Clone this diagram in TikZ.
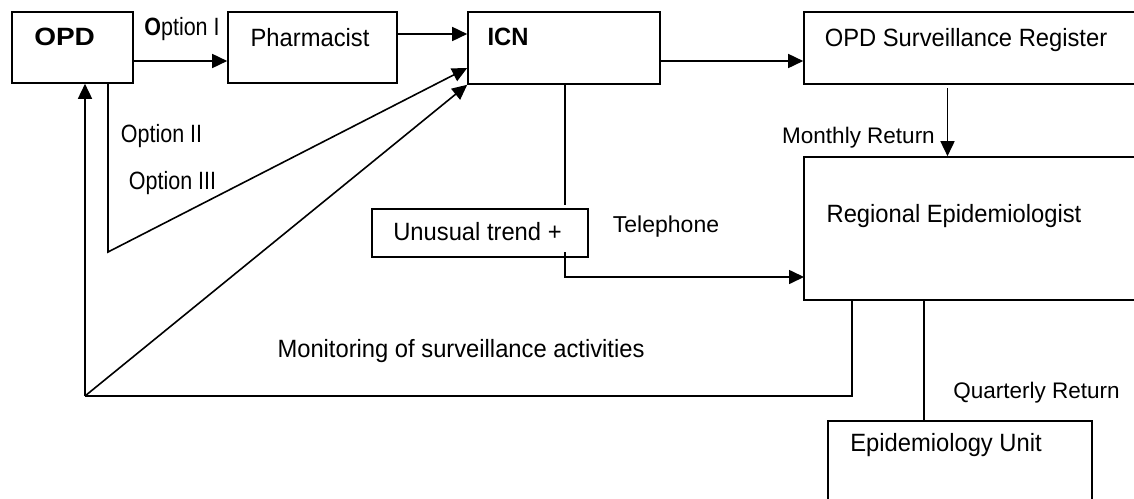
\documentclass[tikz,border=0pt]{standalone}
\usepackage{fontspec}
\setmainfont{Liberation Sans}
\newfontfamily\narrowfont[FakeStretch=0.95]{Liberation Sans}
\newfontfamily\optfont[FakeStretch=0.86]{Liberation Sans}
\newfontfamily\widefont[FakeStretch=1.12]{Liberation Sans}
\usetikzlibrary{arrows.meta}

\begin{document}
\begin{tikzpicture}[x=1pt,y=-1pt,
  line width=1.6pt,
  frame/.style={draw, rectangle, inner sep=0pt},
  txt/.style={inner sep=0pt, text height=0.72em, text depth=0pt, anchor=center},
  nar/.style={txt, font=\narrowfont\fontsize{25}{30}\selectfont},
  opt/.style={txt, font=\optfont\fontsize{25}{30}\selectfont},
  lab/.style={txt, font=\fontsize{22.5}{27}\selectfont},
  flow/.style={-{Triangle[length=15pt,width=14pt]}},
]
\path[use as bounding box, clip] (0,0) rectangle (1134,498);
\fill[white] (0,0) rectangle (1134,498);

% boxes
\node[frame, minimum width=121pt, minimum height=71pt] (opd)   at (72.5,47.5) {};
\node[frame, minimum width=169pt, minimum height=71pt] (pharm) at (312.5,47.5) {};
\node[frame, minimum width=192pt, minimum height=72pt] (icn)   at (564,48) {};
\node[frame, minimum width=346pt, minimum height=72pt] (reg)   at (977,48) {};
\node[frame, minimum width=216pt, minimum height=48pt] (trend) at (480,233) {};
\node[frame, minimum width=346pt, minimum height=143pt] (repi) at (977,228.5) {};
\node[frame, minimum width=264pt, minimum height=89pt] (epu)   at (960,465.5) {};

% box texts
\node[txt, font=\widefont\bfseries\fontsize{25}{30}\selectfont] (opdt) at (64.6,42) {OPD};
\node[nar] (pharmt) at (310,42.5) {Pharmacist};
\node[nar, font=\narrowfont\bfseries\fontsize{25}{30}\selectfont] (icnt) at (508,41.5) {ICN};
\node[nar] (regt) at (966,42.5) {OPD Surveillance Register};
\node[nar] (trendt) at (477.5,237) {Unusual trend +};
\node[nar] (repit) at (954,218.5) {Regional Epidemiologist};
\node[nar] (eput) at (946,447.5) {Epidemiology Unit};

% connector labels
\node[opt] (opt1) at (182,32) {\textbf{O}ption I};
\node[opt] (opt2) at (161.5,139) {Option II};
\node[opt] (opt3) at (172.5,186) {Option III};
\node[lab, font=\fontsize{23}{27}\selectfont] (tel) at (666,228.5) {Telephone};
\node[lab] (month) at (858.5,140) {Monthly Return};
\node[lab] (quart) at (1036.5,395) {Quarterly Return};
\node[nar] (mont) at (461,353.5) {Monitoring of surveillance activities};

% junction points
\coordinate (mon) at (85,396);
\coordinate (opt23) at (108,252);
\coordinate (icnend) at (565,205);
\coordinate (tstart) at (565,252);
\coordinate (telin) at (804,277);
\coordinate (mstart) at (947.5,88);

% connectors
\draw[flow] (opd.east |- 0,61) -- (pharm.west |- 0,61);
\draw[flow] (pharm.east |- 0,34) -- (icn.west |- 0,34);
\draw[flow] (icn.east |- 0,61) -- (reg.west |- 0,61);
\draw[flow] (mstart) -- (repi.north -| mstart);
\draw[flow] (opd.south -| opt23) -- (opt23) -- (icn.west |- 0,68);
\draw (icn.south -| icnend) -- (icnend);
\draw[flow] (tstart) |- (telin);
\draw (repi.south -| 852,0) -- (852,396) -- (mon);
\draw[flow] (mon) -- (opd.south -| mon);
\draw[flow] (mon) -- (icn.south west);
\draw (repi.south -| 924,0) -- (epu.north -| 924,0);
\end{tikzpicture}
\end{document}
